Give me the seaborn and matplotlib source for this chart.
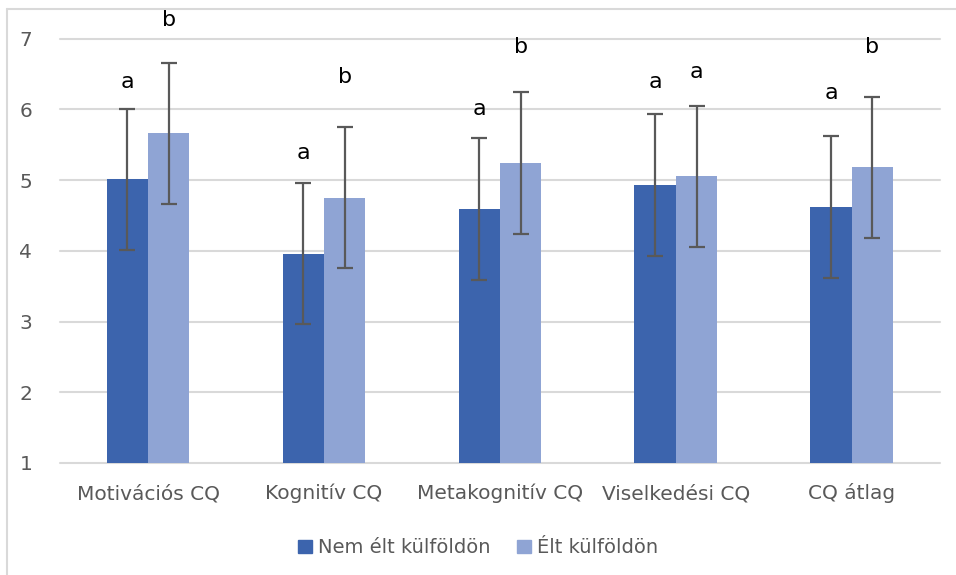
import pandas as pd
import seaborn as sns
import matplotlib.pyplot as plt
from matplotlib.patches import Rectangle
from matplotlib.lines import Line2D

categories = ['Motivációs CQ', 'Kognitív CQ', 'Metakognitív CQ', 'Viselkedési CQ', 'CQ átlag']
groups = ['Nem élt külföldön', 'Élt külföldön']

nem_elt = [5.01, 3.96, 4.59, 4.93, 4.62]
elt = [5.66, 4.75, 5.24, 5.05, 5.18]
nem_elt_sd = [1.0, 1.0, 1.0, 1.0, 1.0]
elt_sd = [1.0, 1.0, 1.0, 1.0, 1.0]
nem_elt_letters = ['a', 'a', 'a', 'a', 'a']
elt_letters = ['b', 'b', 'b', 'a', 'b']
# heights where the letters sit
nem_elt_label_y = [6.38, 5.38, 6.01, 6.38, 6.23]
elt_label_y = [7.26, 6.45, 6.88, 6.52, 6.88]

colors = ['#3C64AD', '#8FA4D4']
grey = '#595959'

df = pd.DataFrame({
    'cat': categories * 2,
    'group': [groups[0]] * 5 + [groups[1]] * 5,
    'value': nem_elt + elt,
})

sns.set_style('white')
plt.rcParams['font.family'] = ['DejaVu Sans']

fig = plt.figure(figsize=(9.56, 5.75), dpi=100)
fig.patch.set_edgecolor('white')
ax = fig.add_axes([0.0628, 0.1948, 0.9202, 0.7382])

sns.barplot(data=df, x='cat', y='value', hue='group', palette=colors,
            width=0.47, errorbar=None, saturation=1, linewidth=0,
            ax=ax, zorder=2)

sds = [nem_elt_sd, elt_sd]
vals = [nem_elt, elt]
letters = [nem_elt_letters, elt_letters]
label_y = [nem_elt_label_y, elt_label_y]
bar_conts = list(ax.containers)
for i, cont in enumerate(bar_conts):
    xs = [p.get_x() + p.get_width() / 2 for p in cont.patches]
    ax.errorbar(xs, vals[i], yerr=sds[i], fmt='none', ecolor=grey,
                elinewidth=1.6, capsize=5.5, capthick=1.6, zorder=3)
    for x, ly, t in zip(xs, label_y[i], letters[i]):
        ax.text(x, ly, t, ha='center', va='center',
                fontsize=16, color='black', clip_on=False)

ax.set_ylim(1, 7)
ax.set_yticks(range(1, 8))
ax.set_xlim(-0.5, 4.5)
ax.grid(axis='y', color='#D9D9D9', linewidth=1.5, zorder=0)
for gl in ax.get_ygridlines():
    gl.set_clip_on(False)
ax.set_axisbelow(True)
sns.despine(ax=ax, left=True, bottom=True)
ax.set_xlabel('')
ax.set_ylabel('')
ax.tick_params(axis='both', length=0, labelsize=14.5, labelcolor=grey)
ax.tick_params(axis='y', pad=20)
ax.tick_params(axis='x', pad=26)
for lbl in ax.get_xticklabels():
    lbl.set_verticalalignment('baseline')

handles = [Rectangle((0, 0), 1, 1, color=c) for c in colors]
ax.legend(handles, groups, loc='center', bbox_to_anchor=(0.5, 0.047),
          bbox_transform=fig.transFigure, ncol=2, frameon=False,
          handlelength=0.7, handleheight=0.7, handletextpad=0.3,
          columnspacing=1.4, fontsize=14, labelcolor=grey)

# chart frame: only left and top edges fall inside the image
fx, fy = 7 / 956, 1 - 9 / 575
fig.add_artist(Line2D([fx, fx], [0, fy], transform=fig.transFigure,
                      color='#D9D9D9', linewidth=1.5))
fig.add_artist(Line2D([fx, 1], [fy, fy], transform=fig.transFigure,
                      color='#D9D9D9', linewidth=1.5))

fig.savefig('out.png', dpi=100)
